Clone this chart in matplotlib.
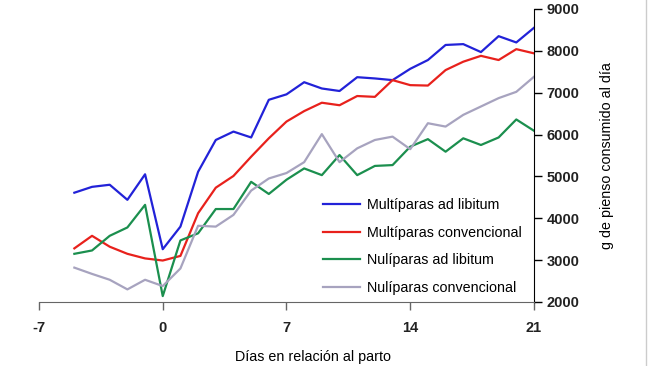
import matplotlib.pyplot as plt

plt.rcParams['font.family'] = ['Liberation Sans', 'DejaVu Sans']
plt.rcParams['axes.unicode_minus'] = False

# dias en relacion al parto
dias = list(range(-5, 22))

multiparas_adlib = [4610, 4750, 4800, 4440, 5050, 3260, 3800, 5110, 5870, 6070, 5930,
                    6830, 6960, 7250, 7100, 7040, 7370, 7340, 7300, 7570, 7780, 8140,
                    8160, 7970, 8350, 8200, 8550]
multiparas_conv = [3280, 3580, 3320, 3150, 3040, 2990, 3100, 4120, 4730, 5010, 5470,
                   5910, 6310, 6560, 6760, 6700, 6920, 6900, 7300, 7180, 7170, 7540,
                   7740, 7880, 7780, 8040, 7940]
nuliparas_adlib = [3150, 3230, 3580, 3780, 4320, 2140, 3470, 3640, 4220, 4220, 4870,
                   4580, 4920, 5190, 5030, 5510, 5030, 5250, 5270, 5710, 5890, 5590,
                   5910, 5750, 5930, 6360, 6090]
nuliparas_conv = [2820, 2670, 2530, 2300, 2530, 2380, 2800, 3820, 3800, 4080, 4660,
                  4950, 5080, 5340, 6010, 5340, 5670, 5870, 5950, 5650, 6270, 6190,
                  6470, 6670, 6870, 7020, 7380]

etiquetas = ['Multíparas ad libitum', 'Multíparas convencional',
             'Nulíparas ad libitum', 'Nulíparas convencional']
colores = ['#2222d8', '#e8211c', '#1b8f4e', '#a7a3bf']

fig = plt.figure(figsize=(6.5, 3.66), dpi=100)
ax = fig.add_axes([0.06, 0.175, 0.7615, 0.8005])

series = [multiparas_adlib, multiparas_conv, nuliparas_adlib, nuliparas_conv]
for valores, etiqueta, color in zip(series, etiquetas, colores):
    ax.plot(dias, valores, color=color, lw=1.6, label=etiqueta)

ax.set_xlim(-7, 21)
ax.set_ylim(2000, 9000)
ax.set_xticks([-7, 0, 7, 14, 21])
ax.set_yticks(range(2000, 9001, 1000))

ax.yaxis.tick_right()
ax.yaxis.set_label_position('right')
ax.spines['top'].set_visible(False)
ax.spines['left'].set_visible(False)
ax.spines['bottom'].set_color('#666666')
ax.spines['right'].set_color('black')
ax.tick_params(axis='x', colors='#666666', labelcolor='black', length=6, width=1,
               labelsize=10.5, pad=8)
ax.tick_params(axis='y', length=6, width=1, labelsize=10.5, pad=3)
for t in ax.get_xticklabels() + ax.get_yticklabels():
    t.set_fontweight('bold')
    t.set_color('#222222')

ax.set_xlabel('Días en relación al parto', fontsize=10.3)
ax.xaxis.set_label_coords(0.554, -0.165)
ax.set_ylabel('g de pienso consumido al día', fontsize=10.3, labelpad=15)

ax.legend(loc='upper left', bbox_to_anchor=(0.574, 0.355), frameon=False,
          fontsize=10.3, borderpad=0, borderaxespad=0, handlelength=2.6,
          handletextpad=0.5, labelspacing=0.95)

fig.add_artist(plt.Line2D([0.994, 0.994], [0, 1], transform=fig.transFigure,
                          color='#cccccc', lw=1))

plt.savefig('out.png', dpi=100)
